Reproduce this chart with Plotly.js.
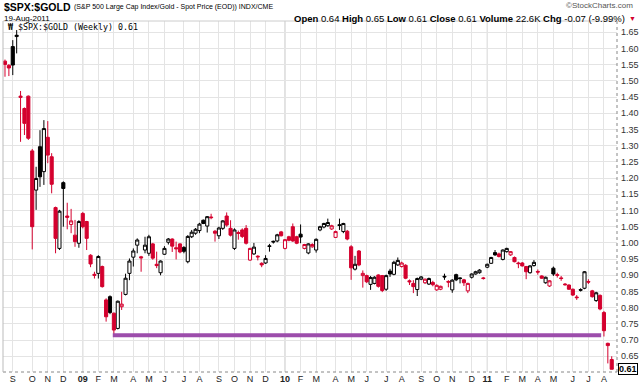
<!DOCTYPE html>
<html><head><meta charset="utf-8">
<script src="https://cdn.plot.ly/plotly-3.0.1.min.js"></script>
<style>body{margin:0;background:#fff}#chart{width:640px;height:384px}</style>
</head><body><div id="chart"></div>
<script>
const weekDates = ['2008-08-22','2008-08-29','2008-09-05','2008-09-12','2008-09-19','2008-09-26','2008-10-03','2008-10-10','2008-10-17','2008-10-24','2008-10-31','2008-11-07','2008-11-14','2008-11-21','2008-11-28','2008-12-05','2008-12-12','2008-12-19','2008-12-26',
'2009-01-02','2009-01-09','2009-01-16','2009-01-23','2009-01-30','2009-02-06','2009-02-13','2009-02-20','2009-02-27','2009-03-06','2009-03-13','2009-03-20','2009-03-27','2009-04-03','2009-04-10','2009-04-17','2009-04-24','2009-05-01','2009-05-08','2009-05-15','2009-05-22','2009-05-29','2009-06-05','2009-06-12','2009-06-19','2009-06-26','2009-07-03','2009-07-10','2009-07-17','2009-07-24','2009-07-31','2009-08-07','2009-08-14','2009-08-21','2009-08-28','2009-09-04','2009-09-11','2009-09-18','2009-09-25','2009-10-02','2009-10-09','2009-10-16','2009-10-23','2009-10-30','2009-11-06','2009-11-13','2009-11-20','2009-11-27','2009-12-04','2009-12-11','2009-12-18','2009-12-25',
'2010-01-01','2010-01-08','2010-01-15','2010-01-22','2010-01-29','2010-02-05','2010-02-12','2010-02-19','2010-02-26','2010-03-05','2010-03-12','2010-03-19','2010-03-26','2010-04-02','2010-04-09','2010-04-16','2010-04-23','2010-04-30','2010-05-07','2010-05-14','2010-05-21','2010-05-28','2010-06-04','2010-06-11','2010-06-18','2010-06-25','2010-07-02','2010-07-09','2010-07-16','2010-07-23','2010-07-30','2010-08-06','2010-08-13','2010-08-20','2010-08-27','2010-09-03','2010-09-10','2010-09-17','2010-09-24','2010-10-01','2010-10-08','2010-10-15','2010-10-22','2010-10-29','2010-11-05','2010-11-12','2010-11-19','2010-11-26','2010-12-03','2010-12-10','2010-12-17','2010-12-24','2010-12-31',
'2011-01-07','2011-01-14','2011-01-21','2011-01-28','2011-02-04','2011-02-11','2011-02-18','2011-02-25','2011-03-04','2011-03-11','2011-03-18','2011-03-25','2011-04-01','2011-04-08','2011-04-15','2011-04-22','2011-04-29','2011-05-06','2011-05-13','2011-05-20','2011-05-27','2011-06-03','2011-06-10','2011-06-17','2011-06-24','2011-07-01','2011-07-08','2011-07-15','2011-07-22','2011-07-29','2011-08-05','2011-08-12','2011-08-19'];

const openVals = [1.561,1.548,1.606,1.637,1.449,1.415,1.453,1.284,1.163,1.297,1.220,1.326,1.266,1.109,0.983,1.186,1.083,1.057,1.024,
0.999,1.091,1.066,0.962,0.903,0.906,0.927,0.824,0.834,0.783,0.736,0.803,0.841,0.906,0.956,0.993,0.957,0.978,0.968,0.997,0.934,0.908,0.965,1.002,1.012,0.985,0.997,0.986,0.942,1.019,1.030,1.038,1.070,1.052,1.080,1.036,1.022,1.045,1.083,1.045,0.983,1.032,1.040,1.045,0.947,0.966,0.959,0.937,0.938,0.991,1.005,1.006,
1.034,0.983,1.019,1.050,1.019,1.027,0.983,0.969,0.988,0.978,1.040,1.049,1.053,1.043,1.017,1.056,1.035,1.036,0.988,0.919,0.975,0.899,0.899,0.872,0.875,0.901,0.899,0.857,0.913,0.903,0.932,0.927,0.931,0.883,0.875,0.856,0.888,0.877,0.873,0.878,0.855,0.857,0.897,0.881,0.855,0.902,0.892,0.886,0.852,0.894,0.904,0.908,0.892,
0.925,0.937,0.970,0.966,0.949,0.973,0.963,0.955,0.938,0.938,0.927,0.908,0.930,0.912,0.898,0.877,0.867,0.922,0.902,0.892,0.873,0.870,0.857,0.833,0.856,0.860,0.881,0.852,0.822,0.838,0.785,0.690,0.640];

const highVals = [1.566,1.552,1.626,1.657,1.469,1.418,1.455,1.290,1.235,1.348,1.379,1.376,1.277,1.112,1.102,1.190,1.124,1.105,1.071,
1.070,1.095,1.068,0.965,0.911,0.962,0.930,0.829,0.838,0.785,0.822,0.849,0.905,0.952,0.983,1.014,0.960,1.019,1.025,1.000,0.973,0.946,0.990,1.015,1.014,1.004,0.999,0.990,1.024,1.040,1.046,1.062,1.072,1.083,1.090,1.040,1.050,1.070,1.094,1.070,1.045,1.038,1.045,1.055,0.985,1.000,0.962,0.940,0.962,0.997,1.007,1.028,
1.037,1.012,1.022,1.060,1.022,1.057,0.997,0.999,0.999,1.014,1.053,1.062,1.075,1.056,1.038,1.075,1.062,1.040,0.993,0.960,0.978,0.915,0.902,0.898,0.897,0.903,0.901,0.902,0.920,0.945,0.955,0.942,0.934,0.887,0.885,0.893,0.898,0.890,0.893,0.883,0.872,0.868,0.905,0.885,0.888,0.905,0.894,0.889,0.877,0.906,0.914,0.919,0.895,
0.936,0.957,0.978,0.970,0.980,0.985,0.975,0.958,0.942,0.941,0.929,0.931,0.947,0.918,0.900,0.896,0.885,0.927,0.908,0.898,0.876,0.872,0.859,0.839,0.860,0.913,0.888,0.855,0.849,0.841,0.790,0.692,0.650];

const lowVals = [1.513,1.515,1.518,1.585,1.312,1.333,1.318,0.980,1.102,1.173,1.179,1.246,1.153,0.968,0.978,1.050,1.042,1.030,0.988,
0.985,1.045,0.978,0.925,0.890,0.890,0.862,0.757,0.780,0.716,0.733,0.793,0.838,0.885,0.927,0.968,0.911,0.968,0.960,0.948,0.922,0.900,0.963,0.995,0.972,0.949,0.968,0.968,0.937,1.015,1.025,1.030,1.058,1.032,1.073,1.004,1.012,1.040,1.050,1.020,0.978,1.010,1.015,0.995,0.945,0.963,0.946,0.925,0.935,0.973,0.998,1.002,
1.020,0.980,1.005,1.003,0.996,0.999,0.980,0.965,0.985,0.970,1.036,1.045,1.050,1.040,1.015,1.040,1.030,1.008,0.886,0.915,0.928,0.862,0.876,0.855,0.872,0.862,0.848,0.852,0.895,0.900,0.929,0.924,0.888,0.870,0.845,0.836,0.885,0.873,0.870,0.866,0.852,0.854,0.886,0.863,0.846,0.882,0.875,0.867,0.845,0.890,0.902,0.905,0.887,
0.922,0.935,0.960,0.955,0.946,0.970,0.960,0.940,0.922,0.927,0.888,0.905,0.927,0.902,0.889,0.874,0.864,0.898,0.893,0.883,0.868,0.855,0.836,0.824,0.850,0.857,0.873,0.831,0.818,0.792,0.711,0.628,0.610];

const closeVals = [1.551,1.540,1.549,1.641,1.453,1.369,1.323,1.050,1.199,1.204,1.353,1.271,1.181,1.014,1.098,1.168,1.079,1.068,1.004,
1.066,1.050,1.014,0.935,0.900,0.958,0.865,0.772,0.785,0.731,0.820,0.811,0.891,0.944,0.975,1.009,0.954,0.993,1.019,0.953,0.930,0.944,0.983,1.012,0.990,0.982,0.972,0.974,1.020,1.033,1.042,1.058,1.060,1.081,1.078,1.030,1.046,1.068,1.055,1.024,1.040,1.029,1.020,0.999,0.983,0.987,0.957,0.932,0.952,0.989,1.003,1.025,
1.022,1.010,1.008,1.006,0.999,1.018,0.995,0.997,0.995,1.011,1.050,1.060,1.063,1.053,1.035,1.054,1.060,1.012,0.923,0.934,0.932,0.906,0.880,0.893,0.894,0.866,0.853,0.899,0.904,0.940,0.946,0.938,0.891,0.880,0.865,0.890,0.895,0.888,0.890,0.871,0.869,0.866,0.895,0.879,0.885,0.886,0.890,0.877,0.875,0.904,0.911,0.916,0.890,
0.934,0.955,0.963,0.958,0.978,0.983,0.973,0.942,0.936,0.929,0.911,0.929,0.940,0.910,0.891,0.894,0.883,0.904,0.900,0.890,0.871,0.857,0.839,0.831,0.854,0.911,0.879,0.834,0.846,0.796,0.729,0.683,0.610];

const monthTickDates = ['2008-09-05','2008-10-10','2008-11-07','2008-12-05','2009-01-09','2009-02-06','2009-03-06','2009-04-10','2009-05-08','2009-06-05','2009-07-10','2009-08-07','2009-09-11','2009-10-09','2009-11-06','2009-12-04','2010-01-08','2010-02-05','2010-03-05','2010-04-09','2010-05-07','2010-06-04','2010-07-09','2010-08-06','2010-09-10','2010-10-08','2010-11-05','2010-12-10','2011-01-07','2011-02-11','2011-03-11','2011-04-08','2011-05-06','2011-06-10','2011-07-08','2011-08-05'];
const monthTickText = ['S','O','N','D','<b>09</b>','F','M','A','M','J','J','A','S','O','N','D','<b>10</b>','F','M','A','M','J','J','A','S','O','N','D','<b>11</b>','F','M','A','M','J','J','A'];
const yearTickDates = ['2009-01-09','2010-01-08','2011-01-07'];
const yTickVals = [0.65,0.70,0.75,0.80,0.85,0.90,0.95,1.00,1.05,1.10,1.15,1.20,1.25,1.30,1.35,1.40,1.45,1.50,1.55,1.60,1.65];
const supportDates = ['2009-03-04','2011-07-31'];
const supportLevel = [0.715, 0.715];
const lastClose = 0.61;

const RED = '#d4002e', BLACK = '#000000';
const groups = {
  hollowBlack: {line: BLACK, fill: '#ffffff', idx: []},
  filledBlack: {line: BLACK, fill: BLACK, idx: []},
  hollowRed: {line: RED, fill: '#ffffff', idx: []},
  filledRed: {line: RED, fill: RED, idx: []}
};
for (let i = 0; i < weekDates.length; i++) {
  const prev = i > 0 ? closeVals[i-1] : openVals[i];
  const hollow = closeVals[i] >= openVals[i];
  const red = closeVals[i] < prev;
  const key = (hollow ? 'hollow' : 'filled') + (red ? 'Red' : 'Black');
  groups[key].idx.push(i);
}
const traces = [];
Object.keys(groups).forEach(k => {
  const g = groups[k];
  const pick = arr => g.idx.map(i => arr[i]);
  const style = {line: {color: g.line, width: 1}, fillcolor: g.fill};
  traces.push({
    type: 'candlestick', x: pick(weekDates), open: pick(openVals), high: pick(highVals),
    low: pick(lowVals), close: pick(closeVals), increasing: style, decreasing: style,
    whiskerwidth: 0, showlegend: false, hoverinfo: 'skip'
  });
});
traces.unshift({type: 'scatter', mode: 'lines', x: supportDates, y: supportLevel,
  line: {color: '#9c4dab', width: 4}, showlegend: false, hoverinfo: 'skip'});

const shapes = yearTickDates.map(d => ({type: 'line', xref: 'x', yref: 'paper', x0: d, x1: d, y0: 0, y1: 1,
  line: {color: '#c4c4c4', width: 1}, layer: 'below'}));
shapes.push({type: 'line', xref: 'paper', yref: 'paper', x0: 0, x1: 1, y0: 0, y1: 0, line: {color: '#888', width: 1, dash: 'dot'}});
shapes.push({type: 'line', xref: 'paper', yref: 'paper', x0: 1, x1: 1, y0: 0, y1: 1, line: {color: '#888', width: 1, dash: 'dot'}});
shapes.push({type: 'line', xref: 'paper', yref: 'paper', x0: 0, x1: 0, y0: 0, y1: 1, line: {color: '#bbb', width: 1}});
shapes.push({type: 'line', xref: 'paper', yref: 'paper', x0: 0, x1: 1, y0: 1, y1: 1, line: {color: '#ccc', width: 1}});

const F = 'Liberation Sans, Arial, sans-serif';
const FN = 'Liberation Sans Narrow, Liberation Sans, Arial, sans-serif';
const layout = {
  width: 640, height: 384,
  margin: {l: 3, r: 23, t: 21, b: 12},
  paper_bgcolor: '#fff', plot_bgcolor: '#fff',
  showlegend: false, hovermode: false,
  boxgap: 0.2, boxgroupgap: 0,
  xaxis: {type: 'date', range: ['2008-08-18 10:00', '2011-08-28 12:00'], rangeslider: {visible: false},
    tickvals: monthTickDates, ticktext: monthTickText, tickangle: 0, ticks: '', showgrid: true,
    gridcolor: '#e4e4e4', gridwidth: 1, zeroline: false, showline: false,
    tickfont: {family: F, size: 9, color: '#222'}, fixedrange: true},
  yaxis: {side: 'right', range: [0.6015, 1.685], tickvals: yTickVals, tickformat: '.2f', ticks: '',
    showgrid: true, gridcolor: '#e4e4e4', zeroline: false, showline: false, ticklabelstandoff: 3,
    tickfont: {family: F, size: 9, color: '#333'}, fixedrange: true},
  shapes: shapes,
  annotations: [
    {xref: 'paper', yref: 'paper', x: -0.0016, y: 1.041, xanchor: 'left', yanchor: 'middle', showarrow: false,
     text: '<b>$SPX:$GOLD</b>', font: {family: F, size: 10.5, color: '#000'}},
    {xref: 'paper', yref: 'paper', x: 0.112, y: 1.040, xanchor: 'left', yanchor: 'middle', showarrow: false,
     text: '(S&amp;P 500 Large Cap Index/Gold - Spot Price (EOD)) INDX/CME', font: {family: FN, size: 7, color: '#000'}},
    {xref: 'paper', yref: 'paper', x: -0.0016, y: 1.0085, xanchor: 'left', yanchor: 'middle', showarrow: false,
     text: '19-Aug-2011', font: {family: F, size: 8, color: '#000'}},
    {xref: 'paper', yref: 'paper', x: 1.03, y: 1.043, xanchor: 'right', yanchor: 'middle', showarrow: false,
     text: '©StockCharts.com', font: {family: F, size: 8, color: '#555'}},
    {xref: 'paper', yref: 'paper', x: 1.017, y: 1.0085, xanchor: 'right', yanchor: 'middle', showarrow: false,
     text: '<b>Open</b> 0.64 <b>High</b> 0.65 <b>Low</b> 0.61 <b>Close</b> 0.61 <b>Volume</b> 22.6K <b>Chg</b> -0.07 (-9.99%)',
     font: {family: F, size: 9.5, color: '#000'}},
    {xref: 'paper', yref: 'paper', x: 1.026, y: 1.0085, xanchor: 'center', yanchor: 'middle', showarrow: false,
     text: '▼', font: {family: F, size: 7, color: RED}},
    {xref: 'paper', yref: 'paper', x: 0.005, y: 0.984, xanchor: 'left', yanchor: 'middle', showarrow: false,
     text: '<b>₩</b> $SPX:$GOLD (Weekly) 0.61', font: {family: 'DejaVu Sans Mono, monospace', size: 8.3, color: '#000'}},
    {xref: 'paper', yref: 'y', x: 1.002, y: lastClose, xanchor: 'left', yanchor: 'middle', showarrow: false,
     text: '<b>' + lastClose.toFixed(2) + '</b>', font: {family: F, size: 9, color: '#000'},
     bordercolor: '#000', borderwidth: 1, borderpad: 0, bgcolor: '#fff'}
  ]
};
Plotly.newPlot('chart', traces, layout, {staticPlot: true, displayModeBar: false});
</script>
</body></html>
